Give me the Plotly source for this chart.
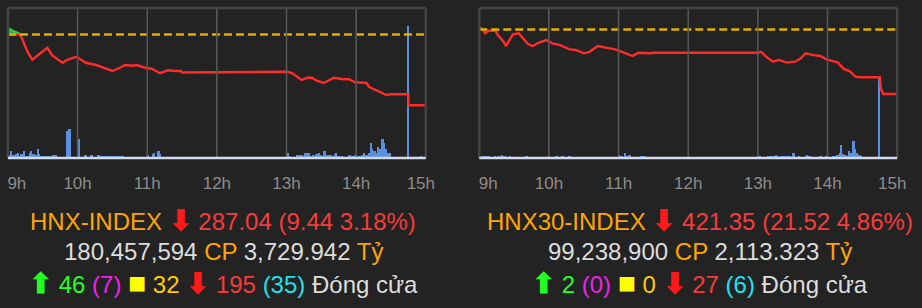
import numpy as np
import plotly.graph_objects as go

# ---------------- data ----------------
hours_ticks = [9, 10, 11, 12, 13, 14, 15]
tick_text = ["9h", "10h", "11h", "12h", "13h", "14h", "15h"]

# HNX-INDEX intraday (minutes after 09:00, index value)
hnx_minutes = [0, 2, 5, 10, 12, 14, 17, 21, 26, 30, 34, 38, 43, 47, 51, 59, 63, 67, 76, 81,
               90, 96, 101, 107, 111, 119, 124, 131, 138, 144, 149, 150, 240, 241, 245, 249,
               253, 258, 262, 266, 272, 277, 281, 289, 294, 299, 309, 311, 317, 323, 326, 330,
               345, 345, 360]
hnx_price = [296.5, 297.2, 296.9, 296.6, 296.0, 295.3, 294.1, 293.1, 293.7, 294.1, 294.7, 293.7,
             293.1, 292.7, 293.1, 293.5, 293.1, 292.7, 292.4, 292.1, 291.6, 292.0, 292.4, 292.3,
             292.4, 292.0, 291.9, 291.3, 291.7, 291.6, 291.6, 291.4, 291.4, 291.5, 291.3, 290.9,
             290.4, 290.7, 290.7, 290.3, 290.0, 290.4, 290.7, 290.5, 290.5, 290.1, 290.0, 289.5,
             289.1, 288.7, 288.4, 288.5, 288.5, 287.04, 287.04]
hnx_vol_minutes = [0, 2, 3, 5, 7, 9, 10, 12, 14, 15, 17, 19, 20, 22, 24, 26, 27, 29, 31, 32, 34,
                   36, 38, 39, 41, 43, 46, 49, 51, 53, 55, 56, 60, 61, 63, 67, 68, 70, 72, 77, 78,
                   80, 82, 84, 85, 87, 89, 90, 92, 94, 96, 97, 99, 118, 121, 123, 125, 126, 128,
                   130, 131, 137, 140, 142, 143, 145, 147, 148,
                   241, 242, 249, 251, 253, 254, 256, 258, 259, 261, 263, 264, 266, 268, 270, 271,
                   273, 275, 276, 278, 280, 282, 283, 285, 288, 294, 295, 297, 299, 302, 304, 305,
                   307, 309, 311, 313, 314, 316, 317, 319, 321, 323, 324, 326, 328, 329, 345, 356]
hnx_volume = [14, 6, 14, 6, 8, 10, 4, 8, 14, 4, 4, 10, 14, 8, 6, 18, 8, 3, 3, 3, 3,
              3, 3, 6, 6, 2, 2, 2, 54, 58, 2, 2, 2, 38, 2, 6, 2, 2, 6, 2, 6,
              3, 3, 3, 3, 3, 3, 3, 3, 3, 3, 3, 3, 2, 6, 2, 8, 10, 2,
              14, 8, 2, 2, 2, 2, 2, 2, 2,
              10, 4, 6, 6, 6, 4, 10, 10, 10, 4, 6, 4, 8, 10, 6, 4,
              14, 6, 6, 6, 4, 8, 10, 4, 4, 6, 6, 4, 6, 3, 3, 6,
              10, 6, 10, 30, 18, 14, 10, 22, 18, 38, 30, 18, 10, 10, 264, 3]

# HNX30-INDEX intraday
h30_minutes = [0, 1, 3, 5, 8, 14, 16, 21, 23, 26, 29, 34, 38, 42, 46, 51, 58, 63, 69, 78,
               83, 90, 95, 102, 109, 117, 123, 132, 137, 142, 147, 150, 240, 243, 247, 253,
               258, 265, 272, 277, 281, 288, 294, 299, 305, 309, 314, 319, 324, 328, 345, 346,
               348, 360]
h30_price = [442.87, 443.3, 442.9, 441.6, 442.4, 442.4, 441.0, 438.8, 437.3, 439.3, 441.2, 441.6,
             439.9, 438.0, 437.3, 438.4, 439.3, 438.2, 437.7, 436.2, 436.0, 434.9, 435.4, 437.3,
             436.8, 436.2, 435.4, 434.0, 435.1, 434.9, 434.9, 435.1, 435.1, 435.4, 433.8, 432.1,
             432.7, 431.8, 432.1, 433.2, 434.9, 434.3, 434.0, 432.9, 432.1, 431.8, 429.7, 429.0,
             427.1, 426.9, 426.9, 423.2, 421.35, 421.35]
h30_vol_minutes = [3, 5, 7, 9, 14, 17, 19, 20, 22, 27, 41, 67, 72, 78, 121, 123, 126, 128, 130,
                   140, 142, 143,
                   242, 249, 251, 253, 254, 256, 258, 261, 263, 265, 266, 268, 271, 276, 282, 283,
                   285, 294, 295, 299, 305, 307, 309, 311, 312, 314, 316, 317, 319, 321, 323, 324,
                   326, 328, 329, 345]
h30_volume = [3, 3, 3, 3, 3, 3, 4, 6, 3, 3, 3, 3, 3, 3, 6, 3, 10, 3, 6,
              3, 3, 3,
              3, 3, 3, 3, 3, 6, 4, 3, 3, 3, 3, 3, 10, 3, 4, 6,
              4, 3, 3, 3, 3, 3, 6, 10, 26, 8, 6, 4, 14, 10, 34, 18,
              10, 6, 3, 162]

# summary texts
index_names = ["HNX-INDEX", "HNX30-INDEX"]
closes = [287.04, 421.35]
changes = [9.44, 21.52]
pct_changes = [3.18, 4.86]
volumes_cp = ["180,457,594", "99,238,900"]
values_ty = ["3,729.942", "2,113.323"]
advances = [46, 2]
ceilings = [7, 0]
unchanged = [32, 0]
declines = [195, 27]
floors = [35, 6]
status_text = "Đóng cửa"

price_ranges = [[280, 300], [400, 450]]
vol_range = [0, 300]

# ---------------- styling ----------------
BG = "#232323"
RED = "#ff2b2b"
GREEN = "#2ecc40"
GOLD = "#e6b000"
BAR = "#5b8fe3"
GRID = "#575757"
BORDER = "#444444"
BASE = "#d3dbee"
FONT = "Liberation Sans, Arial, sans-serif"

W, H = 922, 308
plot_left_px = [8, 484]
plot_w_px = 422
top_px, bottom_px = 8, 158

fig = go.Figure()

series = [
    (hnx_minutes, hnx_price, hnx_vol_minutes, hnx_volume),
    (h30_minutes, h30_price, h30_vol_minutes, h30_volume),
]

shapes = []
for k, (mins, price, vmins, vol) in enumerate(series):
    xa = "x" if k == 0 else "x2"
    xlab = "x3" if k == 0 else "x4"
    ya_vol = "y" if k == 0 else "y3"
    ya_px = "y2" if k == 0 else "y4"
    t = 9 + np.array(mins) / 60.0
    p = np.array(price)
    ref = closes[k] + changes[k]

    fig.add_trace(go.Bar(x=9 + np.array(vmins) / 60.0, y=vol, width=1.7 / 60,
                         marker=dict(color=BAR, line=dict(width=0)),
                         xaxis=xa, yaxis=ya_vol, hoverinfo="skip"))
    # green area above reference
    up = p >= ref
    fig.add_trace(go.Scatter(x=t[up], y=np.full(up.sum(), ref), mode="lines",
                             line=dict(width=0), xaxis=xa, yaxis=ya_px, hoverinfo="skip"))
    fig.add_trace(go.Scatter(x=t[up], y=p[up], mode="lines", fill="tonexty",
                             fillcolor="rgba(46,204,64,0.85)", line=dict(color=GREEN, width=2),
                             xaxis=xa, yaxis=ya_px, hoverinfo="skip"))
    fig.add_trace(go.Scatter(x=t, y=np.minimum(p, ref), mode="lines",
                             line=dict(color=RED, width=2.4), xaxis=xa, yaxis=ya_px,
                             hoverinfo="skip"))
    # reference (previous close) line
    fig.add_trace(go.Scatter(x=[9, 15], y=[ref, ref], mode="lines",
                             line=dict(color=GOLD, width=2.5, dash="8px,4px"),
                             xaxis=xlab, yaxis=ya_px, hoverinfo="skip"))

    xd = dict(xref=f"{xa} domain", yref=f"{ya_vol} domain")
    # vertical hour grid lines at the axis hour values
    for hv in hours_ticks[1:-1]:
        shapes.append(dict(type="line", xref=xa, yref=f"{ya_vol} domain", x0=hv, x1=hv,
                           y0=0, y1=1, layer="above", line=dict(color=GRID, width=1.5)))
    for (x0, y0, x1, y1) in [(0, 1, 1, 1), (0, 0, 0, 1), (1, 0, 1, 1)]:
        shapes.append(dict(type="line", x0=x0, y0=y0, x1=x1, y1=y1,
                           line=dict(color=BORDER, width=2.5), **xd))
    shapes.append(dict(type="line", x0=0, y0=0, x1=1, y1=0,
                       line=dict(color=BASE, width=2.5), **xd))

y_dom = [1 - bottom_px / H, 1 - top_px / H]


def xdomain(k):
    return [plot_left_px[k] / W, (plot_left_px[k] + plot_w_px) / W]


def xgrid_cfg(k):
    return dict(domain=xdomain(k), range=[9, 15], tickmode="array",
                tickvals=hours_ticks[1:-1], showticklabels=False, showgrid=True,
                gridcolor=GRID, gridwidth=1, zeroline=False, showline=False, ticks="",
                fixedrange=True)


def xlabel_cfg(k, over):
    # overlaid axis carrying the hour labels (edge labels kept inside like the original)
    px_per_hr = plot_w_px / 6.0
    tv = list(hours_ticks)
    tv[0] = hours_ticks[0] + 9 / px_per_hr
    tv[-1] = hours_ticks[-1] - 5 / px_per_hr
    return dict(domain=xdomain(k), range=[9, 15], overlaying=over, tickmode="array",
                tickvals=tv, ticktext=tick_text, showgrid=False, zeroline=False,
                showline=False, ticks="", ticklabelstandoff=13, side="bottom",
                tickfont=dict(family=FONT, size=17, color="#8c8c8c"), fixedrange=True)


def ycfg(rng, **kw):
    return dict(domain=y_dom, range=rng, showticklabels=False, showgrid=False,
                zeroline=False, showline=False, ticks="", fixedrange=True, **kw)


fig.update_layout(
    width=W, height=H, margin=dict(l=0, r=0, t=0, b=0),
    paper_bgcolor=BG, plot_bgcolor="rgba(0,0,0,0)", showlegend=False, bargap=0,
    xaxis=xgrid_cfg(0), xaxis2=dict(xgrid_cfg(1), anchor="y3"),
    xaxis3=dict(xlabel_cfg(0, "x"), anchor="y2"),
    xaxis4=dict(xlabel_cfg(1, "x2"), anchor="y4"),
    yaxis=ycfg(vol_range, anchor="x"),
    yaxis2=ycfg(price_ranges[0], overlaying="y", anchor="x"),
    yaxis3=ycfg(vol_range, anchor="x2"),
    yaxis4=ycfg(price_ranges[1], overlaying="y3", anchor="x2"),
    shapes=shapes,
)

ORANGE = "#ffa500"
NUMRED = "#f53c3c"
ARROWRED = "#ff1a1a"
LIGHT = "#dddddd"
LGREEN = "#22ff22"
MAGENTA = "#ee22ee"
YELLOW = "#ffff00"
GOLDNUM = "#ffcc00"
CYAN = "#22e0ee"


def span(txt, color, extra=""):
    return f"<span style='color:{color};{extra}'>{txt}</span>"


ARROW_STYLE = "font-size:28px;font-weight:bold"
SQUARE_STYLE = "font-size:30px"

centers = [225.5, 706.5]
line_y = [220, 251, 282]
for k in range(2):
    l1 = (span(index_names[k], ORANGE) + " " + span("⬇", ARROWRED, ARROW_STYLE) + " " +
          span(f"{closes[k]:.2f} ({changes[k]:.2f} {pct_changes[k]:.2f}%)", NUMRED))
    l2 = (span(volumes_cp[k], LIGHT) + " " + span("CP", ORANGE) + " " +
          span(values_ty[k], LIGHT) + " " + span("Tỷ", ORANGE))
    l3 = (span("⬆", LGREEN, ARROW_STYLE) + " " + span(str(advances[k]), LGREEN) + " " +
          span(f"({ceilings[k]})", MAGENTA) + " " + span("■", YELLOW, SQUARE_STYLE) + " " +
          span(str(unchanged[k]), GOLDNUM) + " " + span("⬇", ARROWRED, ARROW_STYLE) + " " +
          span(str(declines[k]), NUMRED) + " " + span(f"({floors[k]})", CYAN) + " " +
          span(status_text, LIGHT))
    for txt, yp in zip([l1, l2, l3], line_y):
        fig.add_annotation(x=centers[k] / W, y=1 - yp / H, xref="paper", yref="paper",
                           text=txt, showarrow=False, xanchor="center", yanchor="middle",
                           font=dict(family=FONT, size=24, color=LIGHT))

fig.write_html("out.html")
